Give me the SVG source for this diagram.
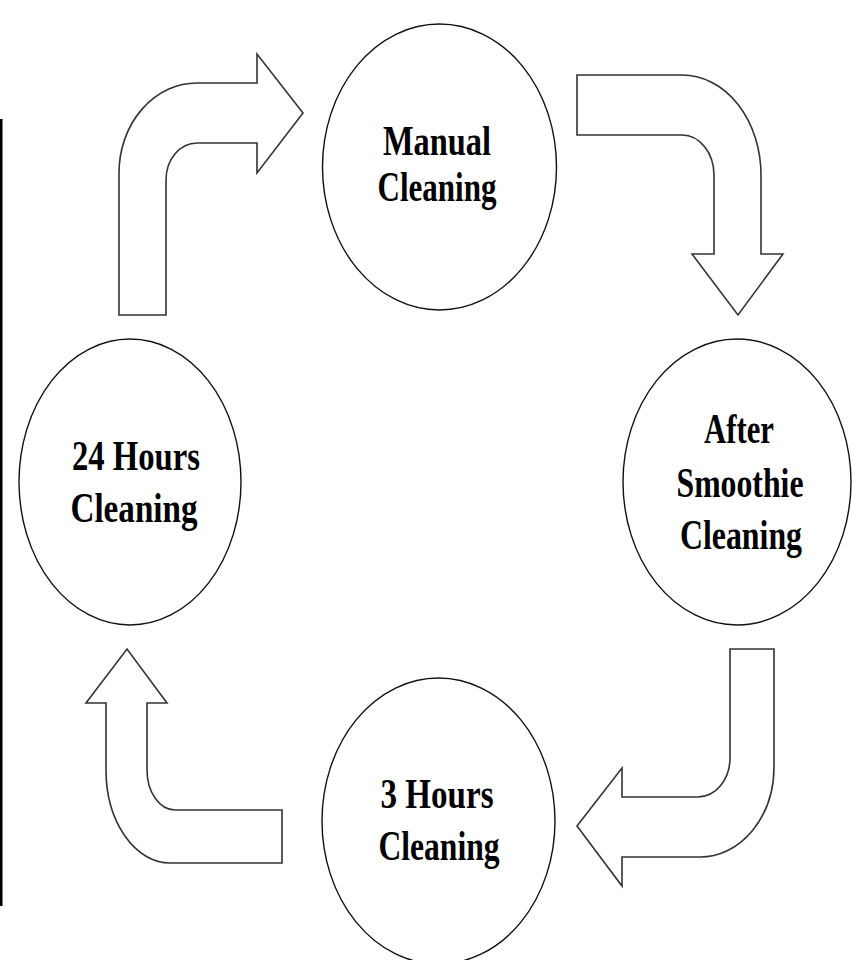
<svg xmlns="http://www.w3.org/2000/svg" width="852" height="960" viewBox="0 0 852 960">
<style>
.bg{fill:#fff}
.node ellipse{fill:#fff;stroke:#111;stroke-width:1.4}
.node text{font-family:"Liberation Serif","Times New Roman",serif;font-weight:bold;font-size:43px;fill:#000;text-anchor:middle}
.conn path{fill:#fff;stroke:#333;stroke-width:1.6;stroke-linejoin:miter}
</style>
<rect class="bg" x="0" y="0" width="852" height="960"/>
<rect x="0" y="119" width="2.5" height="787" fill="#000"/>
<g id="connectors" class="conn">
<path id="arrow-24h-manual" d="M119,315 L119,173 A78,90 0 0 1 197,83 L257,83 L257,54 L303,113 L257,173 L257,143 L197,143 A31,37 0 0 0 166,180 L166,315 Z"/>
<path id="arrow-manual-smoothie" d="M577,75 L682,75 A79,100 0 0 1 761,175 L761,254 L783,254 L738,315 L692,254 L714,254 L714,175 A32,40 0 0 0 682,135 L577,135 Z"/>
<path id="arrow-smoothie-3h" d="M730,649 L774,649 L774,767 A74,90 0 0 1 700,857 L622,857 L622,886 L577,826 L622,768 L622,797 L698,797 A32,39 0 0 0 730,758 Z"/>
<path id="arrow-3h-24h" d="M282,810 L175,810 A28,40 0 0 1 147,770 L147,703 L167,703 L127,649 L86,703 L106,703 L106,770 A64,93 0 0 0 170,863 L282,863 Z"/>
</g>
<g id="node-manual" class="node">
<ellipse cx="439.5" cy="167" rx="117" ry="143"/>
<text x="437" y="155" textLength="108" lengthAdjust="spacingAndGlyphs">Manual</text>
<text x="437" y="201" textLength="119" lengthAdjust="spacingAndGlyphs">Cleaning</text>
</g>
<g id="node-smoothie" class="node">
<ellipse cx="737" cy="482" rx="114" ry="143"/>
<text x="739" y="443" textLength="70" lengthAdjust="spacingAndGlyphs">After</text>
<text x="740" y="497" textLength="127" lengthAdjust="spacingAndGlyphs">Smoothie</text>
<text x="741" y="549" textLength="122" lengthAdjust="spacingAndGlyphs">Cleaning</text>
</g>
<g id="node-3h" class="node">
<ellipse cx="438.5" cy="821" rx="116.5" ry="143"/>
<text x="437" y="808" textLength="113" lengthAdjust="spacingAndGlyphs">3 Hours</text>
<text x="439" y="860" textLength="121" lengthAdjust="spacingAndGlyphs">Cleaning</text>
</g>
<g id="node-24h" class="node">
<ellipse cx="130" cy="482" rx="111" ry="143"/>
<text x="136" y="470" textLength="128" lengthAdjust="spacingAndGlyphs">24 Hours</text>
<text x="134" y="522" textLength="127" lengthAdjust="spacingAndGlyphs">Cleaning</text>
</g>
</svg>
